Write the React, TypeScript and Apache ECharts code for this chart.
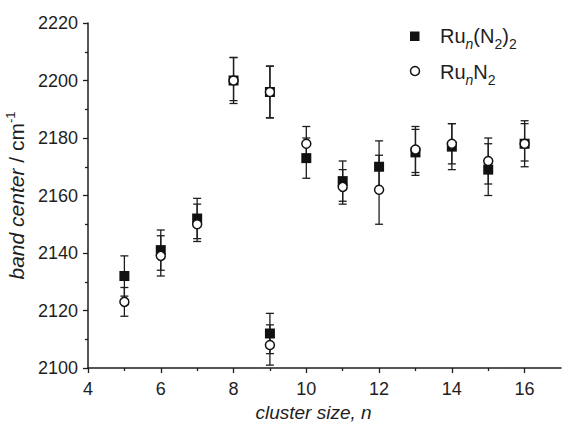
import React, { useEffect, useRef } from "react";
import * as echarts from "echarts";

// cluster size n (n = 9 appears twice: two distinct bands)
const clusterSize = [5, 6, 7, 8, 9, 9, 10, 11, 12, 13, 14, 15, 16];

// Ru_n(N2)2 : filled squares
const bisCenter = [2132, 2141, 2152, 2200, 2196, 2112, 2173, 2165, 2170, 2175, 2177, 2169, 2178];
const bisLow = [2125, 2134, 2145, 2192, 2187, 2105, 2166, 2158, 2161, 2167, 2169, 2160, 2170];
const bisHigh = [2139, 2148, 2159, 2208, 2205, 2119, 2180, 2172, 2179, 2183, 2185, 2178, 2186];

// Ru_nN2 : open circles
const monoCenter = [2123, 2139, 2150, 2200, 2196, 2108, 2178, 2163, 2162, 2176, 2178, 2172, 2178];
const monoLow = [2118, 2132, 2144, 2193, 2187, 2101, 2172, 2157, 2150, 2168, 2171, 2164, 2172];
const monoHigh = [2128, 2146, 2157, 2208, 2205, 2115, 2184, 2169, 2174, 2184, 2185, 2180, 2185];

const xMajorTicks = [4, 6, 8, 10, 12, 14, 16];
const xMinorTicks = [5, 7, 9, 11, 13, 15];

const INK = "#1e1e1e";
const FONT = "'Liberation Sans', Arial, Helvetica, sans-serif";

export default function App() {
  const ref = useRef<HTMLDivElement>(null);

  useEffect(() => {
    if (!ref.current) return;
    const chart = echarts.init(ref.current, undefined, { renderer: "svg" });

    const bisPoints = clusterSize.map((n, i) => [n, bisCenter[i]]);
    const monoPoints = clusterSize.map((n, i) => [n, monoCenter[i]]);
    const bisErr = clusterSize.map((n, i) => [n, bisLow[i], bisHigh[i]]);
    const monoErr = clusterSize.map((n, i) => [n, monoLow[i], monoHigh[i]]);

    const renderErr = (params: any, api: any) => {
      const x = api.value(0);
      const top = api.coord([x, api.value(2)]);
      const bot = api.coord([x, api.value(1)]);
      const hw = 4;
      const style = { stroke: INK, lineWidth: 1.3, fill: "none" };
      return {
        type: "group",
        children: [
          { type: "line", shape: { x1: top[0], y1: top[1], x2: bot[0], y2: bot[1] }, style },
          { type: "line", shape: { x1: top[0] - hw, y1: top[1], x2: top[0] + hw, y2: top[1] }, style },
          { type: "line", shape: { x1: bot[0] - hw, y1: bot[1], x2: bot[0] + hw, y2: bot[1] }, style },
        ],
      };
    };

    const gridBox = { left: 88, right: 1, top: 23, bottom: 57, outerBoundsMode: "none" };

    const legendRich = {
      t: { fontSize: 20, fontFamily: FONT, fill: INK, lineHeight: 30 },
      s: { fontSize: 14, fontFamily: FONT, fill: INK, fontStyle: "italic", lineHeight: 14, verticalAlign: "bottom" },
      d: { fontSize: 14, fontFamily: FONT, fill: INK, lineHeight: 14, verticalAlign: "bottom" },
    };

    chart.setOption({
      animation: false,
      backgroundColor: "#ffffff",
      grid: [gridBox, { ...gridBox }],
      graphic: [
        {
          type: "rect",
          shape: { x: 410, y: 31.5, width: 9.5, height: 9.5 },
          style: { fill: "#111111" },
        },
        {
          type: "text",
          x: 440,
          y: 36,
          style: {
            text: "{t|Ru}{s|n}{t|(N}{d|2}{t|)}{d|2}",
            fontSize: 20,
            fontFamily: FONT,
            rich: legendRich,
            verticalAlign: "middle",
            align: "left",
          },
        },
        {
          type: "circle",
          shape: { cx: 415, cy: 71, r: 4.5 },
          style: { fill: "#ffffff", stroke: "#111111", lineWidth: 1.5 },
        },
        {
          type: "text",
          x: 440,
          y: 72,
          style: {
            text: "{t|Ru}{s|n}{t|N}{d|2}",
            fontSize: 20,
            fontFamily: FONT,
            rich: legendRich,
            verticalAlign: "middle",
            align: "left",
          },
        },
      ],
      xAxis: [
        {
          type: "value",
          gridIndex: 0,
          min: 4,
          max: 17,
          name: "cluster size, n",
          nameLocation: "middle",
          nameGap: 35,
          nameTextStyle: {
            fontFamily: FONT,
            fontSize: 19,
            fontStyle: "italic",
            color: INK,
            padding: [0, 22, 0, 0],
          },
          axisLine: { show: true, onZero: false, lineStyle: { color: INK, width: 1.5 } },
          axisTick: { show: true, length: 5, customValues: xMajorTicks, lineStyle: { color: INK, width: 1.3 } },
          axisLabel: { customValues: xMajorTicks, margin: 12, fontFamily: FONT, fontSize: 18, color: INK },
          splitLine: { show: false },
        },
        {
          type: "value",
          gridIndex: 1,
          min: 4,
          max: 17,
          axisLine: { show: false, onZero: false },
          axisTick: { show: true, length: 3, customValues: xMinorTicks, lineStyle: { color: INK, width: 1.3 } },
          axisLabel: { show: false },
          splitLine: { show: false },
        },
      ],
      yAxis: [
        {
          type: "value",
          gridIndex: 0,
          min: 2100,
          max: 2220,
          interval: 20,
          name: "{i|band center}{r| / cm}{p|-1}",
          nameLocation: "middle",
          nameGap: 52,
          nameTextStyle: {
            rich: {
              i: { fontFamily: FONT, fontSize: 21, fontStyle: "italic", color: INK, lineHeight: 26 },
              r: { fontFamily: FONT, fontSize: 21, color: INK, lineHeight: 26 },
              p: { fontFamily: FONT, fontSize: 13, color: INK, lineHeight: 13, verticalAlign: "top" },
            },
          },
          axisLine: { show: true, onZero: false, lineStyle: { color: INK, width: 1.5 } },
          axisTick: { show: true, length: 5, lineStyle: { color: INK, width: 1.3 } },
          minorTick: { show: true, splitNumber: 2, length: 3, lineStyle: { color: INK, width: 1.3 } },
          axisLabel: {
            margin: 10,
            fontFamily: FONT,
            fontSize: 18,
            color: INK,
            formatter: (v: number) => String(v),
          },
          splitLine: { show: false },
          minorSplitLine: { show: false },
        },
        {
          type: "value",
          gridIndex: 1,
          min: 2100,
          max: 2220,
          interval: 20,
          show: false,
        },
      ],
      series: [
        {
          name: "bisErr",
          type: "custom",
          xAxisIndex: 0,
          yAxisIndex: 0,
          z: 1,
          renderItem: renderErr,
          data: bisErr,
          encode: { x: 0, y: [1, 2] },
          silent: true,
        },
        {
          name: "monoErr",
          type: "custom",
          xAxisIndex: 0,
          yAxisIndex: 0,
          z: 1,
          renderItem: renderErr,
          data: monoErr,
          encode: { x: 0, y: [1, 2] },
          silent: true,
        },
        {
          name: "Ru_n(N2)2",
          type: "scatter",
          xAxisIndex: 0,
          yAxisIndex: 0,
          z: 2,
          symbol: "rect",
          symbolSize: 10,
          itemStyle: { color: "#111111", opacity: 1 },
          data: bisPoints,
        },
        {
          name: "Ru_nN2",
          type: "scatter",
          xAxisIndex: 0,
          yAxisIndex: 0,
          z: 3,
          symbol: "circle",
          symbolSize: 9,
          itemStyle: { color: "#ffffff", borderColor: "#111111", borderWidth: 1.5, opacity: 1 },
          data: monoPoints,
        },
      ],
    });

    return () => chart.dispose();
  }, []);

  return (
    <div
      ref={ref}
      style={{ position: "fixed", left: 0, top: 0, width: 562, height: 425, background: "#fff" }}
    />
  );
}
